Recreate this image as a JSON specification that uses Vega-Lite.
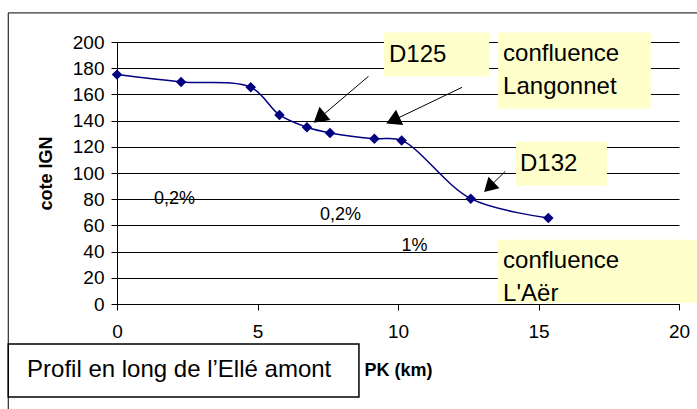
{
  "$schema": "https://vega.github.io/schema/vega-lite/v6.json",
  "width": 562,
  "height": 262,
  "autosize": {"type": "none"},
  "padding": {"left": 117, "top": 42, "right": 18, "bottom": 105},
  "background": "white",
  "data": {"values": [{}]},
  "config": {
    "font": "Liberation Sans",
    "view": {"stroke": null},
    "axis": {
      "domainColor": "#000000",
      "tickColor": "#000000",
      "labelColor": "#000000",
      "titleColor": "#000000",
      "labelFont": "Liberation Sans",
      "titleFont": "Liberation Sans",
      "labelFontSize": 19,
      "titleFontSize": 18,
      "titleFontWeight": "bold",
      "tickSize": 6,
      "domainWidth": 1,
      "tickWidth": 1,
      "labelOverlap": false
    }
  },
  "datasets": {
    "profil": [
      {"pk": 0, "cote": 175.1},
      {"pk": 2.28, "cote": 169.5},
      {"pk": 4.76, "cote": 165.4},
      {"pk": 5.78, "cote": 144.3},
      {"pk": 6.76, "cote": 134.9},
      {"pk": 7.58, "cote": 130.6},
      {"pk": 9.16, "cote": 126.2},
      {"pk": 10.13, "cote": 124.9},
      {"pk": 12.59, "cote": 80.4},
      {"pk": 15.35, "cote": 65.7}
    ]
  },
  "encoding": {
    "x": {
      "type": "quantitative",
      "scale": {"domain": [0, 20], "nice": false, "zero": false},
      "axis": {"title": "PK (km)", "values": [0, 5, 10, 15, 20], "tickCount": 30, "format": "d", "grid": false, "labelPadding": 12, "titlePadding": 20, "labelFlush": false}
    },
    "y": {
      "type": "quantitative",
      "scale": {"domain": [0, 200], "nice": false},
      "axis": {"title": "cote IGN", "values": [0, 20, 40, 60, 80, 100, 120, 140, 160, 180, 200], "tickCount": 30, "format": "d", "grid": true, "gridColor": "#000000", "gridWidth": 1, "gridOpacity": 1, "labelPadding": 7, "titlePadding": 17, "labelFlush": false}
    }
  },
  "layer": [
    {
      "data": {"name": "profil"},
      "mark": {"type": "line", "interpolate": "catmull-rom", "color": "#000080", "strokeWidth": 1.5},
      "encoding": {
        "x": {"field": "pk", "type": "quantitative"},
        "y": {"field": "cote", "type": "quantitative"}
      }
    },
    {
      "data": {"name": "profil"},
      "mark": {"type": "point", "shape": "diamond", "filled": true, "color": "#000080", "size": 110, "opacity": 1},
      "encoding": {
        "x": {"field": "pk", "type": "quantitative"},
        "y": {"field": "cote", "type": "quantitative"}
      }
    },
    {
      "mark": {"type": "rule", "color": "#000000", "strokeWidth": 1},
      "encoding": {"x": {"datum": -3.87}, "x2": {"datum": 21}, "y": {"datum": 222.2}}
    },
    {
      "mark": {"type": "rule", "color": "#000000", "strokeWidth": 1},
      "encoding": {"x": {"datum": -3.87}, "y": {"datum": 222.2}, "y2": {"datum": -82}}
    },
    {
      "mark": {"type": "rect", "fill": "#FFFFCC"},
      "encoding": {"x": {"datum": 9.5}, "x2": {"datum": 13.24}, "y": {"datum": 207.2}, "y2": {"datum": 173.6}}
    },
    {
      "mark": {"type": "rect", "fill": "#FFFFCC"},
      "encoding": {"x": {"datum": 13.56}, "x2": {"datum": 19.0}, "y": {"datum": 207.2}, "y2": {"datum": 149.1}}
    },
    {
      "mark": {"type": "rect", "fill": "#FFFFCC"},
      "encoding": {"x": {"datum": 14.2}, "x2": {"datum": 17.44}, "y": {"datum": 123.9}, "y2": {"datum": 90.3}}
    },
    {
      "mark": {"type": "rect", "fill": "#FFFFCC"},
      "encoding": {"x": {"datum": 13.55}, "x2": {"datum": 21}, "y": {"datum": 49.1}, "y2": {"datum": 1.0}}
    },
    {
      "mark": {"type": "rect", "fill": "#FFFFFF", "stroke": "#000000", "strokeWidth": 1.5},
      "encoding": {"x": {"datum": -3.87}, "x2": {"datum": 8.61}, "y": {"datum": -30.5}, "y2": {"datum": -71.0}}
    },
    {
      "mark": {"type": "text", "text": "D125", "fontSize": 24, "align": "left", "baseline": "alphabetic", "color": "#000000"},
      "encoding": {"x": {"datum": 9.68}, "y": {"datum": 184.8}}
    },
    {
      "mark": {"type": "text", "text": ["confluence", "Langonnet"], "fontSize": 24, "lineHeight": 33, "align": "left", "baseline": "alphabetic", "color": "#000000"},
      "encoding": {"x": {"datum": 13.74}, "y": {"datum": 185.3}}
    },
    {
      "mark": {"type": "text", "text": "D132", "fontSize": 24, "align": "left", "baseline": "alphabetic", "color": "#000000"},
      "encoding": {"x": {"datum": 14.34}, "y": {"datum": 101.8}}
    },
    {
      "mark": {"type": "text", "text": ["confluence", "L'Aër"], "fontSize": 24, "lineHeight": 33, "align": "left", "baseline": "alphabetic", "color": "#000000"},
      "encoding": {"x": {"datum": 13.74}, "y": {"datum": 27.7}}
    },
    {
      "mark": {"type": "text", "text": "Profil en long de l’Ellé amont", "fontSize": 24, "align": "left", "baseline": "alphabetic", "color": "#000000"},
      "encoding": {"x": {"datum": -3.2}, "y": {"datum": -55.5}}
    },
    {
      "mark": {"type": "text", "text": "0,2%", "fontSize": 18, "align": "center", "baseline": "alphabetic", "color": "#000000"},
      "encoding": {"x": {"datum": 2.05}, "y": {"datum": 76.4}}
    },
    {
      "mark": {"type": "text", "text": "0,2%", "fontSize": 18, "align": "center", "baseline": "alphabetic", "color": "#000000"},
      "encoding": {"x": {"datum": 7.95}, "y": {"datum": 63.8}}
    },
    {
      "mark": {"type": "text", "text": "1%", "fontSize": 18, "align": "center", "baseline": "alphabetic", "color": "#000000"},
      "encoding": {"x": {"datum": 10.59}, "y": {"datum": 40.7}}
    },
    {
      "mark": {"type": "rule", "color": "#000000", "strokeWidth": 1},
      "encoding": {"x": {"datum": 8.95}, "y": {"datum": 173.8}, "x2": {"datum": 7.2}, "y2": {"datum": 141.9}}
    },
    {
      "mark": {"type": "rule", "color": "#000000", "strokeWidth": 1},
      "encoding": {"x": {"datum": 12.28}, "y": {"datum": 165.4}, "x2": {"datum": 9.82}, "y2": {"datum": 140.1}}
    },
    {
      "mark": {"type": "rule", "color": "#000000", "strokeWidth": 1},
      "encoding": {"x": {"datum": 13.82}, "y": {"datum": 101.3}, "x2": {"datum": 13.24}, "y2": {"datum": 89.1}}
    },
    {
      "mark": {"type": "point", "shape": "triangle-up", "filled": true, "color": "#000000", "size": 290, "angle": 230, "opacity": 1},
      "encoding": {"x": {"datum": 7.2}, "y": {"datum": 141.9}}
    },
    {
      "mark": {"type": "point", "shape": "triangle-up", "filled": true, "color": "#000000", "size": 290, "angle": 245, "opacity": 1},
      "encoding": {"x": {"datum": 9.82}, "y": {"datum": 140.1}}
    },
    {
      "mark": {"type": "point", "shape": "triangle-up", "filled": true, "color": "#000000", "size": 250, "angle": 226, "opacity": 1},
      "encoding": {"x": {"datum": 13.24}, "y": {"datum": 89.1}}
    }
  ]
}
